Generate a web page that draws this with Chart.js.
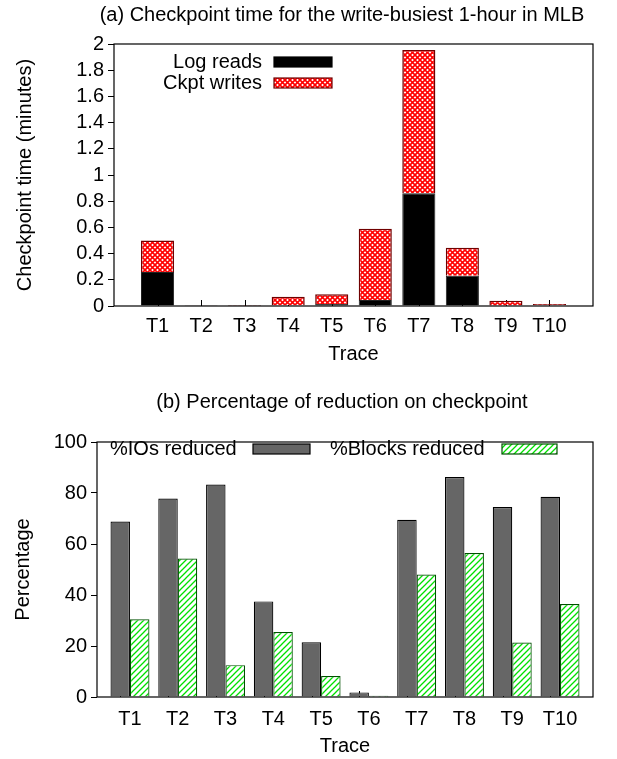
<!DOCTYPE html>
<html>
<head>
<meta charset="utf-8">
<script src="https://cdn.jsdelivr.net/npm/chart.js@4"></script>
<style>
html, body { margin: 0; padding: 0; background: #fff; }
#wrap { position: relative; width: 617px; height: 759px; }
canvas { position: absolute; left: 0; }
</style>
</head>
<body>
<div id="wrap">
    <canvas id="ckptChart" width="617" height="380" style="top:0px"></canvas>
    <canvas id="reduceChart" width="617" height="379" style="top:380px"></canvas>
</div>
<script>

// Data

const traces = ["T1", "T2", "T3", "T4", "T5", "T6", "T7", "T8", "T9", "T10"];

// (a) minutes, stacked
const logReads   = [0.26, 0.001, 0.001, 0.005, 0.015, 0.045, 0.86, 0.23, 0.003, 0.005];
const ckptWrites = [0.24, 0.002, 0.004, 0.066, 0.074, 0.545, 1.095, 0.215, 0.037, 0.010];

// (b) percent
const iosReduced    = [68.8, 77.8, 83.3, 37.5, 21.5, 1.8, 69.5, 86.3, 74.5, 78.5];
const blocksReduced = [30.5, 54.3, 12.5, 25.5, 8.2, 0.5, 48.0, 56.5, 21.4, 36.5];

const ckptTicks = [0, 0.2, 0.4, 0.6, 0.8, 1, 1.2, 1.4, 1.6, 1.8, 2];
const pctTicks = [0, 20, 40, 60, 80, 100];


Chart.defaults.font.family = "'Liberation Sans', Arial, sans-serif";
Chart.defaults.font.size = 20;
Chart.defaults.color = "#000";


// Fill patterns

function redCrossHatch() {
    const c = document.createElement("canvas");
    c.width = 5;
    c.height = 5;
    const g = c.getContext("2d");
    g.fillStyle = "#fff";
    g.fillRect(0, 0, 5, 5);
    g.strokeStyle = "#ff0000";
    g.lineWidth = 1.6;
    g.beginPath();
    g.moveTo(-1, -1); g.lineTo(6, 6);
    g.moveTo(-1, 6); g.lineTo(6, -1);
    g.stroke();
    return g.createPattern(c, "repeat");
}

function greenHatch() {
    const c = document.createElement("canvas");
    c.width = 6;
    c.height = 6;
    const g = c.getContext("2d");
    g.fillStyle = "#fff";
    g.fillRect(0, 0, 6, 6);
    g.strokeStyle = "#00e000";
    g.lineWidth = 1.3;
    g.beginPath();
    g.moveTo(-1, 7); g.lineTo(7, -1);
    g.moveTo(-4, 4); g.lineTo(4, -4);
    g.moveTo(2, 10); g.lineTo(10, 2);
    g.stroke();
    return g.createPattern(c, "repeat");
}

const redFill = redCrossHatch();
const greenFill = greenHatch();


// Frame, inward x ticks, title and legend

const framePlugin = {

    id: "frame",

    beforeDatasetsDraw(chart, args, opts) {
        const { ctx, chartArea: a, scales: { x } } = chart;
        ctx.save();
        ctx.strokeStyle = "#000";
        ctx.lineWidth = 1;
        traces.forEach((t, i) => {
            const px = Math.round(x.getPixelForValue(i + (opts.tickShift || 0))) + 0.5;
            ctx.beginPath();
            ctx.moveTo(px, a.bottom);
            ctx.lineTo(px, a.bottom - 6);
            ctx.stroke();
        });
        ctx.restore();
    },

    afterDraw(chart, args, opts) {
        const { ctx, chartArea: a } = chart;
        ctx.save();

        ctx.strokeStyle = "#000";
        ctx.lineWidth = 1.2;
        ctx.strokeRect(a.left, a.top, a.right - a.left, a.bottom - a.top);

        ctx.fillStyle = "#000";
        ctx.font = "20px 'Liberation Sans', Arial, sans-serif";
        ctx.textBaseline = "middle";
        ctx.textAlign = "center";
        ctx.fillText(opts.title, opts.titleX, opts.titleY);

        opts.legend.forEach(item => {
            ctx.textAlign = item.align;
            ctx.fillStyle = "#000";
            ctx.fillText(item.text, item.textX, item.y);
            ctx.fillStyle = item.fill;
            ctx.fillRect(item.boxX, item.y - 5, item.boxW, 10);
            ctx.strokeStyle = item.stroke;
            ctx.lineWidth = 1.2;
            ctx.strokeRect(item.boxX, item.y - 5, item.boxW, 10);
        });

        ctx.restore();
    }
};


// (a) Checkpoint time

const ckptChart = new Chart(document.getElementById("ckptChart"), {

    type: "bar",

    data: {
        datasets: [
            {
                label: "Log reads",
                data: logReads.map((v, i) => ({ x: i, y: v })),
                backgroundColor: "#000",
                borderColor: "#222",
                borderWidth: 1
            },
            {
                label: "Ckpt writes",
                data: ckptWrites.map((v, i) => ({ x: i, y: v })),
                backgroundColor: redFill,
                borderColor: "#700000",
                borderWidth: 1.5
            }
        ]
    },

    options: {
        responsive: false,
        animation: false,
        categoryPercentage: 0.76,
        barPercentage: 1,
        layout: { padding: { top: 44, right: 24, left: 0, bottom: 0 } },
        plugins: {
            legend: { display: false },
            tooltip: { enabled: false },
            frame: {
                title: "(a) Checkpoint time for the write-busiest 1-hour in MLB",
                titleX: 342,
                titleY: 15,
                legend: [
                    { text: "Log reads", align: "right", textX: 262, y: 62, fill: "#000", stroke: "#000", boxX: 274, boxW: 58 },
                    { text: "Ckpt writes", align: "right", textX: 262, y: 83, fill: redFill, stroke: "#700000", boxX: 274, boxW: 58 }
                ]
            }
        },
        scales: {
            x: {
                type: "linear",
                offset: false,
                stacked: true,
                min: -1,
                max: 10,
                afterBuildTicks: s => { s.ticks = traces.map((t, i) => ({ value: i })); },
                afterFit: s => { s.height = 74; },
                ticks: { autoSkip: false, padding: 0, maxRotation: 0, callback: v => traces[v] },
                grid: { display: false },
                border: { display: false },
                title: { display: true, text: "Trace", padding: { top: 0, bottom: 14 } }
            },
            y: {
                stacked: true,
                min: 0,
                max: 2,
                afterBuildTicks: s => { s.ticks = ckptTicks.map(v => ({ value: v })); },
                afterFit: s => { s.width = 114; },
                ticks: { autoSkip: false, padding: 4, callback: v => String(Math.round(v * 10) / 10) },
                grid: { drawOnChartArea: false, tickLength: 6, color: "#000" },
                border: { display: false },
                title: { display: true, text: "Checkpoint time (minutes)", padding: { top: 13, bottom: 0 } }
            }
        }
    },

    plugins: [framePlugin]
});


// (b) Percentage of reduction

const reduceChart = new Chart(document.getElementById("reduceChart"), {

    type: "bar",

    data: {
        datasets: [
            {
                label: "%IOs reduced",
                data: iosReduced.map((v, i) => ({ x: i, y: v })),
                backgroundColor: "#666666",
                borderColor: "#000",
                borderWidth: 1.2
            },
            {
                label: "%Blocks reduced",
                data: blocksReduced.map((v, i) => ({ x: i, y: v })),
                backgroundColor: greenFill,
                borderColor: "#005000",
                borderWidth: 1.2
            }
        ]
    },

    options: {
        responsive: false,
        animation: false,
        categoryPercentage: 0.815,
        barPercentage: 1,
        layout: { padding: { top: 62, right: 24, left: 0, bottom: 0 } },
        plugins: {
            legend: { display: false },
            tooltip: { enabled: false },
            frame: {
                title: "(b) Percentage of reduction on checkpoint",
                titleX: 342,
                titleY: 22,
                tickShift: -0.2,
                legend: [
                    { text: "%IOs reduced", align: "left", textX: 110, y: 69, fill: "#666666", stroke: "#000", boxX: 253, boxW: 57 },
                    { text: "%Blocks reduced", align: "left", textX: 330, y: 69, fill: greenFill, stroke: "#005000", boxX: 502, boxW: 55 }
                ]
            }
        },
        scales: {
            x: {
                type: "linear",
                offset: false,
                min: -0.69,
                max: 9.69,
                afterBuildTicks: s => { s.ticks = traces.map((t, i) => ({ value: i })); },
                afterFit: s => { s.height = 62; },
                ticks: { autoSkip: false, padding: 2, maxRotation: 0, callback: v => traces[v] },
                grid: { display: false },
                border: { display: false },
                title: { display: true, text: "Trace", padding: { top: 0, bottom: 1 } }
            },
            y: {
                min: 0,
                max: 100,
                afterBuildTicks: s => { s.ticks = pctTicks.map(v => ({ value: v })); },
                afterFit: s => { s.width = 97; },
                ticks: { autoSkip: false, padding: 4 },
                grid: { drawOnChartArea: false, tickLength: 6, color: "#000" },
                border: { display: false },
                title: { display: true, text: "Percentage", padding: { top: 11, bottom: 0 } }
            }
        }
    },

    plugins: [framePlugin]
});

</script>
</body>
</html>
